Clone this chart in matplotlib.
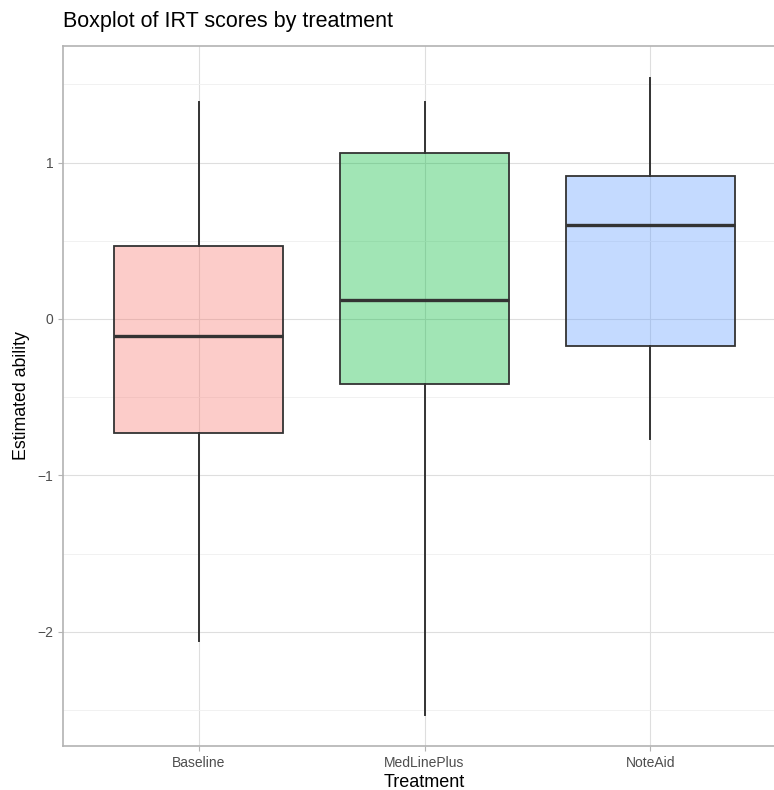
import matplotlib
matplotlib.use("Agg")
import matplotlib.pyplot as plt
from matplotlib.colors import to_rgba
from matplotlib.ticker import MultipleLocator

plt.rcParams['font.family'] = ['Liberation Sans', 'DejaVu Sans']

# values
treatments = ["Baseline", "MedLinePlus", "NoteAid"]
whisker_low = [-2.06, -2.53, -0.77]
q1 = [-0.73, -0.415, -0.17]
medians = [-0.11, 0.12, 0.60]
q3 = [0.465, 1.06, 0.915]
whisker_high = [1.39, 1.39, 1.54]
fill_colors = ["#F8766D", "#00BA38", "#619CFF"]

stats = []
for name, lo, a, m, b, hi in zip(treatments, whisker_low, q1, medians, q3, whisker_high):
    stats.append({"label": name, "whislo": lo, "q1": a, "med": m,
                  "q3": b, "whishi": hi, "fliers": []})

fig = plt.figure(figsize=(7.74, 7.90), dpi=100)
# panel runs off the right edge, like the reference
ax = fig.add_axes([63 / 774, 1 - 746 / 790, 723 / 774, 700 / 790])

edge = "#333333"
parts = ax.bxp(stats, positions=[1, 2, 3], widths=0.75, patch_artist=True,
               showcaps=False, showfliers=False,
               boxprops=dict(edgecolor=edge, linewidth=1.3),
               whiskerprops=dict(color=edge, linewidth=1.4),
               medianprops=dict(color=edge, linewidth=2.4, solid_capstyle="butt"),
               zorder=3)
for patch, c in zip(parts["boxes"], fill_colors):
    patch.set_facecolor(to_rgba(c, 0.37))

ax.set_xlim(0.4, 3.6)
ax.set_ylim(-2.73, 1.745)
ax.yaxis.set_major_locator(MultipleLocator(1))
ax.yaxis.set_minor_locator(MultipleLocator(0.5))
ax.set_xticks([1, 2, 3])
ax.set_xticklabels(treatments)

ax.grid(True, which="major", color="#DEDEDE", linewidth=0.8, zorder=0)
ax.grid(True, which="minor", axis="y", color="#EFEFEF", linewidth=0.6, zorder=0)
ax.set_axisbelow(True)
for s in ax.spines.values():
    s.set_color("#B3B3B3")
    s.set_linewidth(1.2)

ax.tick_params(axis="both", which="major", colors="#B3B3B3", length=3.5,
               width=0.8, labelcolor="#4D4D4D", labelsize=10)
ax.tick_params(axis="y", which="minor", length=0)

ax.set_xlabel("Treatment", fontsize=13, labelpad=3)
ax.set_ylabel("Estimated ability", fontsize=12.8, labelpad=5)
fig.text(63 / 774, 1 - 22 / 790, "Boxplot of IRT scores by treatment",
         fontsize=15.5, va="center", ha="left")

fig.savefig("out.png", dpi=100)
